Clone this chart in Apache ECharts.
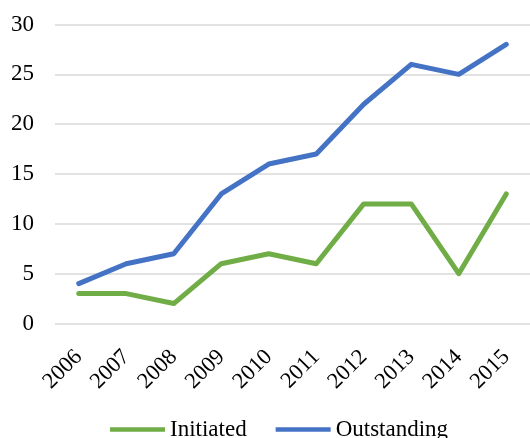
<!DOCTYPE html>
<html><head><meta charset="utf-8">
<script src="https://cdn.jsdelivr.net/npm/echarts@6/dist/echarts.min.js"></script>
<style>html,body{margin:0;padding:0;background:#fff}#c{width:530px;height:438px}</style>
</head><body><div id="c"></div>
<script>
const categories = ['2006','2007','2008','2009','2010','2011','2012','2013','2014','2015'];
const initiated = [3,3,2,6,7,6,12,12,5,13];
const outstanding = [4,6,7,13,16,17,22,26,25,28];
const font = 'Liberation Serif';
const chart = echarts.init(document.getElementById('c'));
chart.setOption({
  animation:false,
  textStyle:{fontFamily:font},
  grid:{left:55,right:-8,top:24.5,bottom:114.5},
  legend:{
    bottom:-8,left:105,itemWidth:55,itemHeight:4.5,itemGap:29,
    icon:'rect',
    textStyle:{fontFamily:font,fontSize:23,color:'#000'},
    data:['Initiated','Outstanding']
  },
  xAxis:{
    type:'category',data:categories,boundaryGap:true,
    axisLine:{show:false},axisTick:{show:false},
    axisLabel:{rotate:45,fontFamily:font,fontSize:22.5,color:'#000',margin:30,interval:0}
  },
  yAxis:{
    type:'value',min:0,max:30,interval:5,
    axisLine:{show:false},axisTick:{show:false},
    axisLabel:{fontFamily:font,fontSize:23,color:'#000',margin:21},
    splitLine:{lineStyle:{color:'#d9d9d9',width:1.5}}
  },
  series:[
    {name:'Initiated',type:'line',data:initiated,symbol:'none',lineStyle:{width:5,color:'#70AD47',cap:'round',join:'round'},itemStyle:{color:'#70AD47'}},
    {name:'Outstanding',type:'line',data:outstanding,symbol:'none',lineStyle:{width:5,color:'#4472C4',cap:'round',join:'round'},itemStyle:{color:'#4472C4'}}
  ]
});
</script></body></html>
